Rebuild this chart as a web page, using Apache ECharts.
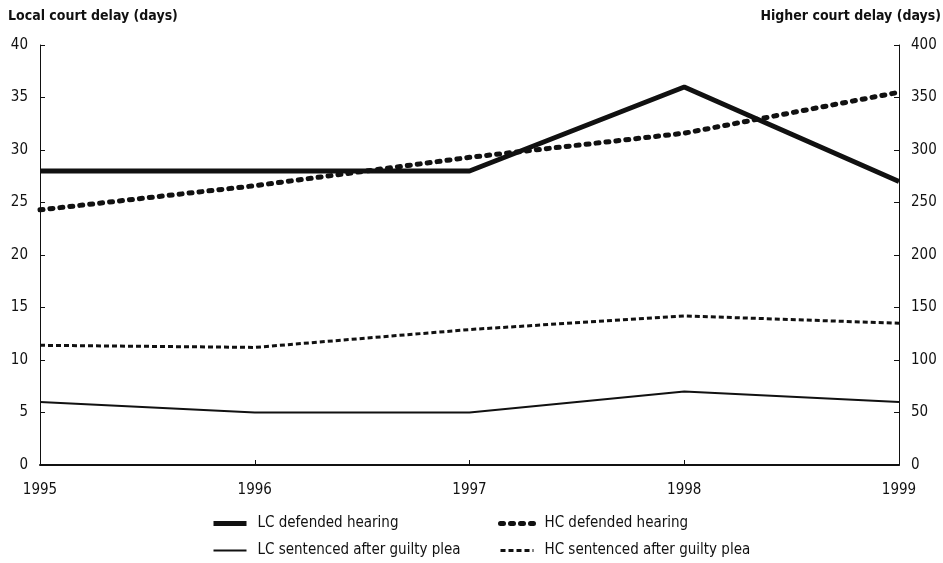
<!DOCTYPE html>
<html>
<head>
<meta charset="utf-8">
<script src="https://cdn.jsdelivr.net/npm/echarts@6/dist/echarts.min.js"></script>
<style>
  html, body { margin: 0; padding: 0; background: #fff; }
  #chart { width: 943px; height: 563px; }
</style>
</head>
<body>
<div id="chart"></div>
<script>
// data
const years = ['1995', '1996', '1997', '1998', '1999']
const lcDefended = [28, 28, 28, 36, 27]
const lcSentenced = [6, 5, 5, 7, 6]
const hcDefended = [243, 266, 293, 316, 355]
const hcSentenced = [114, 112, 129, 142, 135]

const font = '"Liberation Sans Narrow", "DejaVu Sans Condensed", "Liberation Sans", sans-serif'
const ink = '#111'

// line looks, shared by the series and their legend keys
const thickSolid = { width: 5, color: ink, type: 'solid' }
const thickDots = { width: 5, color: ink, type: [3, 7], cap: 'round' }
const thinSolid = { width: 2, color: ink, type: 'solid' }
const thinDash = { width: 3, color: ink, type: [5, 3] }

const chart = echarts.init(document.getElementById('chart'))

const legendBase = {
  orient: 'vertical',
  top: 511,
  itemGap: 12,
  itemWidth: 33,
  itemHeight: 14,
  itemStyle: { opacity: 0 },
  textStyle: { fontFamily: font, fontSize: 15, color: ink, padding: [0, 0, 0, 6] }
}

const option = {
  backgroundColor: '#fff',
  animation: false,
  textStyle: { fontFamily: font, color: ink },
  graphic: [
    {
      type: 'text', left: 8, top: 9,
      style: { text: 'Local court delay (days)', font: 'bold 14px ' + font, fill: ink }
    },
    {
      type: 'text', right: 2, top: 9,
      style: { text: 'Higher court delay (days)', font: 'bold 14px ' + font, fill: ink }
    }
  ],
  grid: { left: 40, right: 44, top: 45, bottom: 98 },
  legend: [
    Object.assign({}, legendBase, {
      left: 206,
      data: [
        { name: 'LC defended hearing', lineStyle: thickSolid },
        { name: 'LC sentenced after guilty plea', lineStyle: thinSolid }
      ]
    }),
    Object.assign({}, legendBase, {
      left: 493,
      data: [
        { name: 'HC defended hearing', lineStyle: thickDots },
        { name: 'HC sentenced after guilty plea', lineStyle: thinDash }
      ]
    })
  ],
  xAxis: {
    type: 'category',
    data: years,
    boundaryGap: false,
    axisLine: { lineStyle: { color: ink, width: 2 } },
    axisTick: { inside: true, length: 5, lineStyle: { color: ink } },
    axisLabel: { color: ink, fontSize: 15, fontFamily: font, margin: 18 }
  },
  yAxis: [
    {
      type: 'value', min: 0, max: 40, interval: 5,
      axisLine: { show: true, lineStyle: { color: ink } },
      axisTick: { show: true, inside: true, length: 5, lineStyle: { color: ink } },
      axisLabel: { color: ink, fontSize: 15, fontFamily: font, margin: 12 },
      splitLine: { show: false }
    },
    {
      type: 'value', min: 0, max: 400, interval: 50,
      axisLine: { show: true, lineStyle: { color: ink } },
      axisTick: { show: true, inside: true, length: 5, lineStyle: { color: ink } },
      axisLabel: { color: ink, fontSize: 15, fontFamily: font, margin: 12 },
      splitLine: { show: false }
    }
  ],
  series: [
    {
      name: 'LC defended hearing', type: 'line', yAxisIndex: 0,
      data: lcDefended, symbol: 'none', color: ink, lineStyle: thickSolid
    },
    {
      name: 'HC defended hearing', type: 'line', yAxisIndex: 1,
      data: hcDefended, symbol: 'none', color: ink, lineStyle: thickDots
    },
    {
      name: 'LC sentenced after guilty plea', type: 'line', yAxisIndex: 0,
      data: lcSentenced, symbol: 'none', color: ink, lineStyle: thinSolid
    },
    {
      name: 'HC sentenced after guilty plea', type: 'line', yAxisIndex: 1,
      data: hcSentenced, symbol: 'none', color: ink, lineStyle: thinDash
    }
  ]
}

chart.setOption(option)
</script>
</body>
</html>
